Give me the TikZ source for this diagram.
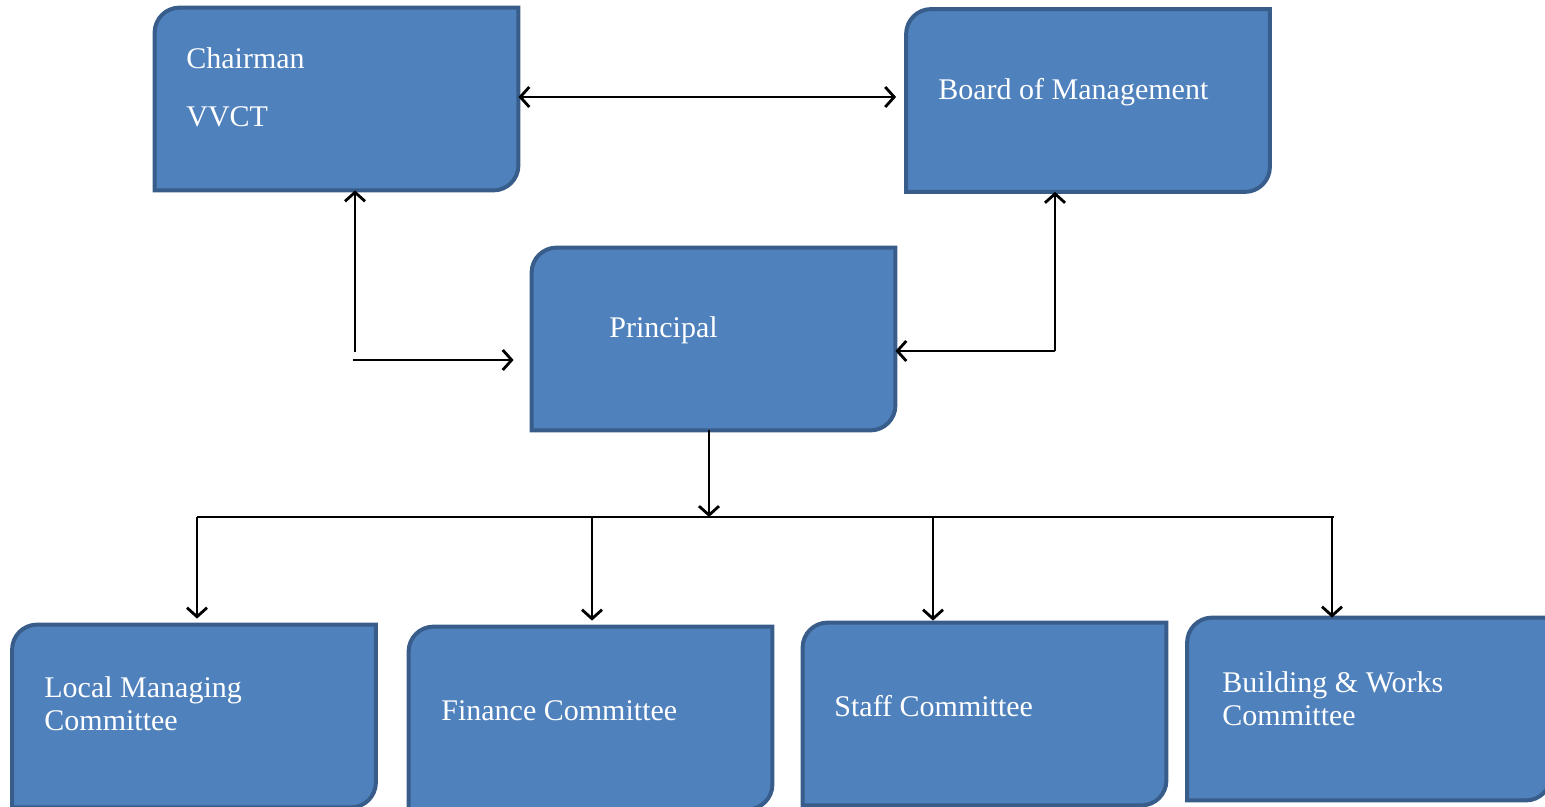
\documentclass[tikz,border=0pt]{standalone}
\usepackage{fontspec}
\setmainfont{Liberation Serif}
\usetikzlibrary{arrows.meta, positioning}
\definecolor{boxfill}{HTML}{4F81BD}
\definecolor{boxline}{HTML}{385D8A}

\begin{document}
\begin{tikzpicture}[
        x=0.5pt,
        y=0.5pt,
        >={Straight Barb[length=4.5pt, width=10pt]},
        link/.style={line width=1.4pt},
        orgbox/.style={minimum width=181.5pt, minimum height=91pt, inner sep=0pt},
        boxtext/.style={text=white, anchor=west, inner sep=0pt, align=left,
            font=\fontsize{15}{16.5}\selectfont}
    ]
    \useasboundingbox (0,0) rectangle (1545,-807);

    % boxes
    \node[orgbox] (chair) at (336.5,-99) {};
    \node[orgbox] (board) at (1088,-100.5) {};
    \node[orgbox] (prin) at (713.5,-339) {};
    \node[orgbox] (lmc) at (194,-716) {};
    \node[orgbox] (fin) at (590.5,-718) {};
    \node[orgbox] (staff) at (984.5,-714) {};
    \node[orgbox] (bw) at (1369,-709) {};

    \foreach \b in {chair, board, prin, lmc, fin, staff, bw}
        \draw[boxline, fill=boxfill, line width=2pt]
            (\b.south west) -- ([yshift=-12.5pt]\b.north west)
            arc[start angle=180, end angle=90, radius=12.5pt]
            -- (\b.north east) -- ([yshift=12.5pt]\b.south east)
            arc[start angle=0, end angle=-90, radius=12.5pt] -- cycle;

    \node[boxtext] (chair-a) at (186,-58) {Chairman};
    \node[boxtext] (chair-b) at (186,-117) {VVCT};
    \node[boxtext] (board-t) at (938,-92) {Board of Management};
    \node[boxtext] (prin-t) at (609,-330) {Principal};
    \node[boxtext] (lmc-t) at (44,-704) {Local Managing\\Committee};
    \node[boxtext] (fin-t) at (441,-711) {Finance Committee};
    \node[boxtext] (staff-t) at (834,-706) {Staff Committee};
    \node[boxtext] (bw-t) at (1222,-699) {Building \& Works\\Committee};

    % links at the top
    \draw[link, <->] ([yshift=1pt]chair.east) -- ([xshift=-5pt, yshift=1pt]chair.east -| board.west);

    \coordinate (c1) at (355,-352);
    \coordinate (c2) at (353,-360);
    \draw[link, ->] (c1) -- (c1 |- chair.south);
    \draw[link, ->] (c2) -- ([xshift=-9pt]c2 -| prin.west);

    \coordinate (b1) at (1055,-351);
    \draw[link, ->] (b1) -- (b1 |- board.south);
    \draw[link, ->] (b1) -- (b1 -| prin.east);

    % down to the committees
    \coordinate (bus) at (709,-517);
    \coordinate (bus-l) at (197,-517);
    \coordinate (bus-r) at (1334,-517);
    \draw[link, ->] (prin.south -| bus) -- (bus);
    \draw[link] (bus-l) -- (bus-r);

    \foreach \x/\b/\g in {197/lmc/3, 592/fin/3, 933/staff/1, 1332/bw/0} {
        \coordinate (d\b) at (\x,-517);
        \draw[link, ->] (d\b) -- ([yshift=\g pt]d\b |- \b.north);
    }
\end{tikzpicture}
\end{document}
